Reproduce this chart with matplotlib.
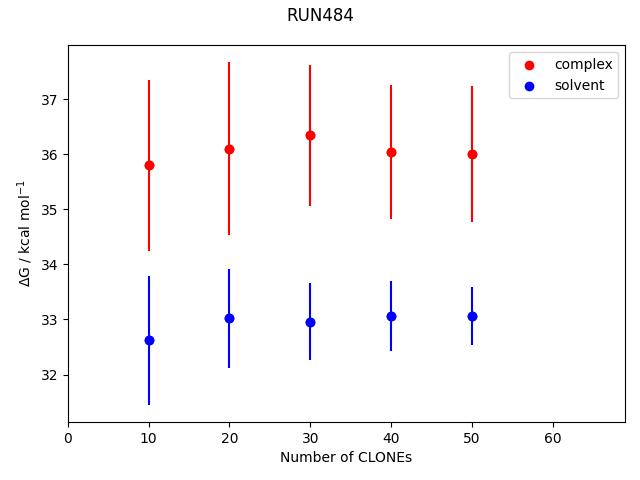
import numpy as np
import matplotlib
matplotlib.use('Agg')
import matplotlib.pyplot as plt

# number of clones
n_clones = [10, 20, 30, 40, 50]

# free energies (kcal/mol) and errors
complex_dg = [35.80, 36.10, 36.34, 36.04, 36.00]
complex_err = [1.55, 1.57, 1.28, 1.22, 1.23]
solvent_dg = [32.62, 33.02, 32.96, 33.06, 33.06]
solvent_err = [1.17, 0.90, 0.70, 0.635, 0.525]

fig, ax = plt.subplots(figsize=(6.4, 4.8), dpi=100)
fig.suptitle('RUN484', y=0.985)

ax.scatter(n_clones, complex_dg, color='red', label='complex')
ax.errorbar(n_clones, complex_dg, yerr=complex_err, color='red', fmt='o')
ax.scatter(n_clones, solvent_dg, color='blue', label='solvent')
ax.errorbar(n_clones, solvent_dg, yerr=solvent_err, color='blue', fmt='o')

ax.set_xlim(0, 69.0)
ax.set_xlabel('Number of CLONEs')
ax.set_ylabel(r'$\Delta$G / kcal mol$^{-1}$')
ax.legend(loc='upper right')

fig.subplots_adjust(left=0.106, right=0.977, top=0.906, bottom=0.121)
plt.savefig('out.png')
